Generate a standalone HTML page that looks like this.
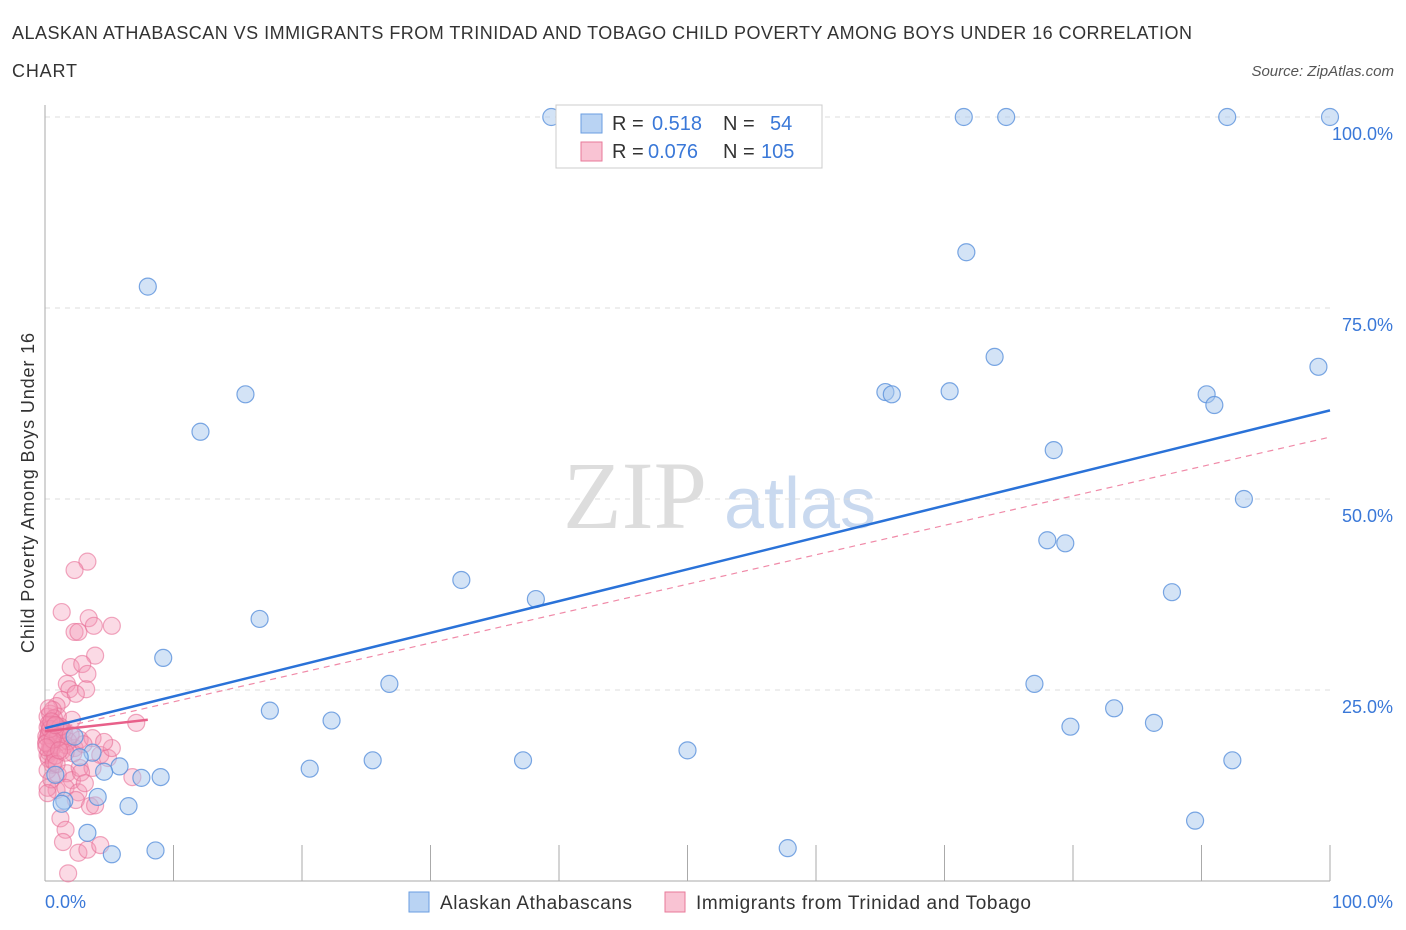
<!DOCTYPE html>
<html><head><meta charset="utf-8"><style>
body{margin:0;background:#fff;font-family:"Liberation Sans",sans-serif}
svg{display:block}
</style></head><body>
<svg id="c" width="1406" height="930">
<text x="12" y="39" font-size="18" fill="#333" textLength="1180" lengthAdjust="spacing">ALASKAN ATHABASCAN VS IMMIGRANTS FROM TRINIDAD AND TOBAGO CHILD POVERTY AMONG BOYS UNDER 16 CORRELATION</text>
<text x="12" y="77" font-size="18" fill="#333" textLength="65" lengthAdjust="spacing">CHART</text>
<text x="1394" y="76" font-size="15" font-style="italic" fill="#555" text-anchor="end">Source: ZipAtlas.com</text>
<text x="635" y="528" font-size="96" fill="#ddd" font-family="Liberation Serif,serif" text-anchor="middle">ZIP</text>
<text x="800" y="528" font-size="72" fill="#c9d9ef" text-anchor="middle">atlas</text>
<text transform="translate(34,493) rotate(-90)" font-size="18" fill="#333" text-anchor="middle" textLength="320" lengthAdjust="spacing">Child Poverty Among Boys Under 16</text>
<g id="grid"></g><g id="pts"></g><g id="lines"></g>
<g>
<rect x="556" y="105" width="266" height="63" fill="#fff" stroke="#ccc"/>
<rect x="581" y="114" width="21" height="19" fill="#b9d3f3" stroke="#6a9ee0"/>
<rect x="581" y="142" width="21" height="19" fill="#f9c3d3" stroke="#e8799a"/>
<text x="612" y="130" font-size="20" fill="#333">R = </text><text x="652" y="130" font-size="20" fill="#3a78d8">0.518</text>
<text x="723" y="130" font-size="20" fill="#333">N = </text><text x="770" y="130" font-size="20" fill="#3a78d8">54</text>
<text x="612" y="158" font-size="20" fill="#333">R = </text><text x="648" y="158" font-size="20" fill="#3a78d8">0.076</text>
<text x="723" y="158" font-size="20" fill="#333">N = </text><text x="761" y="158" font-size="20" fill="#3a78d8">105</text>
</g>
<g>
<rect x="409" y="892" width="20" height="20" fill="#b9d3f3" stroke="#6a9ee0"/>
<text x="440" y="909" font-size="19" fill="#333" textLength="192" lengthAdjust="spacing">Alaskan Athabascans</text>
<rect x="665" y="892" width="20" height="20" fill="#f9c3d3" stroke="#e8799a"/>
<text x="696" y="909" font-size="19" fill="#333" textLength="335" lengthAdjust="spacing">Immigrants from Trinidad and Tobago</text>
</g>
</svg>
<script>
const yTicks=[25,50,75,100];
const yTickLabels=["25.0%","50.0%","75.0%","100.0%"];
const xTickLabels=["0.0%","100.0%"];
const blueX=[39.4,71.5,74.8,92,100,71.7,8,73.9,99.1,15.6,65.4,65.9,70.4,90.4,91,12.1,78.5,93.3,78,79.4,32.4,87.7,38.2,16.7,9.2,26.8,77,17.5,22.3,83.2,79.8,86.3,50,25.5,37.2,92.4,20.6,9,5.8,4.6,3.7,2.7,2.3,0.8,1.5,4.1,6.5,89.5,3.3,5.2,8.6,57.8,1.3,7.5];
const blueY=[100,100,100,100,100,82.3,77.8,68.6,67.3,63.7,64,63.7,64.1,63.7,62.3,58.8,56.4,50,44.6,44.2,39.4,37.8,36.9,34.3,29.2,25.8,25.8,22.3,21,22.6,20.2,20.7,17.1,15.8,15.8,15.8,14.7,13.6,15,14.3,16.8,16.2,18.9,13.9,10.5,11,9.8,7.9,6.3,3.5,4,4.3,10.1,13.5];
const pinkX=[3.3,2.3,1.3,3.4,5.2,2.3,2.6,3.8,3.9,2,2.9,3.3,1.7,1.9,3.2,1.3,0.9,2.1,1,0.8,0.4,0.2,0.5,1.2,1.6,2.3,2.7,3.7,4.3,4.9,5.2,7.1,0.2,0.6,1,1.7,2.1,2.7,3.7,6.8,0.9,1.6,2.6,2.4,3.5,3.9,1.2,1.6,1.4,2.6,3.3,4.3,1.8,0.3,0.5,0.2,0.7,0.4,0.1,0.6,0.3,0.8,0.2,0.5,0.1,0.4,0.9,0.3,0.6,0.2,1.1,0.5,0.3,0.7,0.1,0.4,1.3,0.2,0.8,0.6,1.5,1.0,0.3,0.5,0.2,1.8,2.2,1.4,0.7,3.0,0.4,0.9,1.2,0.6,0.1,2.8,2.0,1.6,0.3,4.6,0.5,1.1,3.1,0.8,2.4];
const pinkY=[41.8,40.7,35.2,34.4,33.4,32.6,32.6,33.4,29.5,28,28.4,27.1,25.8,25.1,25.1,23.7,22.9,21.1,21.5,20.4,19.8,18.7,17.8,18.2,17.8,17.4,18.5,18.7,16.5,16.1,17.4,20.7,16.5,15.2,13.9,14.1,13.2,14.8,14.8,13.6,11.9,12.2,11.6,10.6,9.8,9.9,8.2,6.7,5.1,3.7,4.1,4.7,1,19.5,18.4,20.1,19,17.6,18.9,20.8,16.9,19.3,21.5,17.2,18.1,20.4,18.6,16,19.7,14.5,20,17.4,19.1,15.6,18,21.9,17,12.2,16.4,22.4,19.4,18.8,20.6,13.3,11.5,18.3,16.7,19.8,21.3,17.9,19.9,15.3,20.2,18.5,17.5,14.2,19.1,16.8,22.6,18.2,20.9,17.1,12.8,20.4,24.5];
const blueLine=[0,20,100,61.6];
const pinkDash=[0,19.6,100,58.1];
const pinkSolid=[0,19.6,8,21.1];
const NS="http://www.w3.org/2000/svg";
const X=v=>45+v*12.85, Y=v=>881-v*7.64;
function mk(t,a,p){const e=document.createElementNS(NS,t);for(const k in a)e.setAttribute(k,a[k]);p.appendChild(e);return e;}
const grid=document.getElementById('grid');
yTicks.forEach((t,i)=>{
 const l=mk('line',{x1:45,x2:1330,y1:Y(t),y2:Y(t),stroke:'#ddd','stroke-dasharray':'5,5'},grid);
 
 
 const tx=mk('text',{x:1393,y:Y(t)+23,'font-size':18,fill:'#3a78d8','text-anchor':'end'},grid);
 tx.textContent=yTickLabels[i];
 
 
});
mk('line',{x1:45,x2:45,y1:105,y2:881,stroke:'#aaa'},grid);
mk('line',{x1:45,x2:1330,y1:881,y2:881,stroke:'#aaa'},grid);
for(let i=1;i<=10;i++){const t=mk('line',{x1:X(i*10),x2:X(i*10),y1:845,y2:881,stroke:'#aaa'},grid);
 
 }
[[45,'start'],[1393,'end']].forEach((p,i)=>{const t=mk('text',{x:p[0],y:908,'font-size':18,fill:'#3a78d8','text-anchor':p[1]},grid);t.textContent=xTickLabels[i];
 
 });
const pts=document.getElementById('pts');
pinkX.forEach((v,i)=>{const c=mk('circle',{cx:X(v),cy:Y(pinkY[i]),r:8.5,fill:'rgba(244,150,180,0.35)',stroke:'rgba(232,110,150,0.6)','stroke-width':1.2},pts);
 
 });
blueX.forEach((v,i)=>{const c=mk('circle',{cx:X(v),cy:Y(blueY[i]),r:8.5,fill:'rgba(168,200,238,0.5)',stroke:'rgba(90,145,220,0.8)','stroke-width':1.2},pts);
 
 });
const lines=document.getElementById('lines');
const a=mk('line',{x1:X(pinkDash[0]),y1:Y(pinkDash[1]),x2:X(pinkDash[2]),y2:Y(pinkDash[3]),stroke:'#f08aa8','stroke-width':1.2,'stroke-dasharray':'6,5'},lines);


const b=mk('line',{x1:X(blueLine[0]),y1:Y(blueLine[1]),x2:X(blueLine[2]),y2:Y(blueLine[3]),stroke:'#2a72d8','stroke-width':2.5},lines);


const c=mk('line',{x1:X(pinkSolid[0]),y1:Y(pinkSolid[1]),x2:X(pinkSolid[2]),y2:Y(pinkSolid[3]),stroke:'#e8608a','stroke-width':2.5},lines);


</script>
</body></html>
